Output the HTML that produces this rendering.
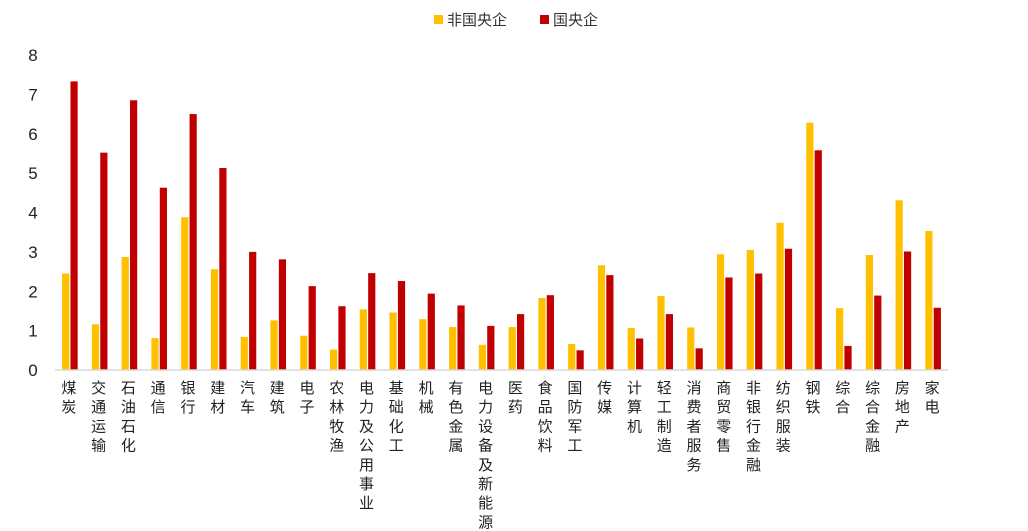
<!DOCTYPE html>
<html><head><meta charset="utf-8"><style>
html,body{margin:0;padding:0;background:#fff;}
svg{display:block;font-family:"Liberation Sans","Noto Sans CJK SC",sans-serif;}
</style></head><body>
<svg id="chart" width="1028" height="531" viewBox="0 0 1028 531" xmlns="http://www.w3.org/2000/svg">
<g>
<rect x="434" y="15" width="9" height="9" fill="#FFC000"/>
<text x="447" y="25" font-size="15" fill="#333">非国央企</text>
<rect x="540" y="15" width="9" height="9" fill="#C00000"/>
<text x="553" y="25" font-size="15" fill="#333">国央企</text>
</g>
<g id="yaxis"></g>
<g id="bars"></g>
<line x1="55" y1="370" x2="948" y2="370" stroke="#d9d9d9" stroke-width="1.5"/>
<g id="xaxis"></g>
</svg>
<script>
const categories = ["煤炭","交通运输","石油石化","通信","银行","建材","汽车","建筑","电子","农林牧渔","电力及公用事业","基础化工","机械","有色金属","电力设备及新能源","医药","食品饮料","国防军工","传媒","计算机","轻工制造","消费者服务","商贸零售","非银行金融","纺织服装","钢铁","综合","综合金融","房地产","家电"];
const nonSoeValues = [2.45,1.16,2.87,0.81,3.88,2.56,0.84,1.26,0.87,0.52,1.54,1.46,1.29,1.09,0.64,1.09,1.83,0.66,2.66,1.07,1.88,1.08,2.94,3.05,3.74,6.28,1.57,2.92,4.31,3.53];
const soeValues = [7.33,5.52,6.85,4.63,6.5,5.13,3.0,2.81,2.13,1.62,2.46,2.26,1.94,1.64,1.12,1.42,1.9,0.5,2.41,0.8,1.42,0.55,2.35,2.45,3.08,5.58,0.61,1.89,3.01,1.58];
const yTicks = [0,1,2,3,4,5,6,7,8];

const NS = "http://www.w3.org/2000/svg";
const plotLeft = 55, plotRight = 948, y0 = 370, yMax = 8, yTop = 55;
const band = (plotRight - plotLeft) / categories.length;
function yScale(v){ return y0 - v / yMax * (y0 - yTop); }
function xCenter(i){ return plotLeft + band * (i + 0.5); }

const yaxis = document.getElementById('yaxis');
yTicks.forEach(t => {
  const el = document.createElementNS(NS, 'text');
  
  
  el.setAttribute('x', 33); el.setAttribute('y', yScale(t) + 6);
  el.setAttribute('font-size', '17'); el.setAttribute('text-anchor', 'middle'); el.setAttribute('fill', '#222');
  el.textContent = t;
  yaxis.appendChild(el);
});

const bars = document.getElementById('bars');
const bw = 7.2;
categories.forEach((c, i) => {
  const cx = xCenter(i);
  [[nonSoeValues[i], '#FFC000', cx - bw - 0.6, 'bar-non-soe'], [soeValues[i], '#C00000', cx + 0.6, 'bar-soe']].forEach(([v, col, x, nm]) => {
    const r = document.createElementNS(NS, 'rect');
    
    
    r.setAttribute('x', x); r.setAttribute('y', yScale(v));
    r.setAttribute('width', bw); r.setAttribute('height', y0 - yScale(v));
    r.setAttribute('fill', col);
    bars.appendChild(r);
  });
});

const xaxis = document.getElementById('xaxis');
categories.forEach((c, i) => {
  const t = document.createElementNS(NS, 'text');
  
  
  t.setAttribute('font-size', '15'); t.setAttribute('text-anchor', 'middle'); t.setAttribute('fill', '#222');
  [...c].forEach((ch, k) => {
    const s = document.createElementNS(NS, 'tspan');
    s.setAttribute('x', xCenter(i) - 1);
    s.setAttribute('y', 393 + k * 19.2);
    s.textContent = ch;
    t.appendChild(s);
  });
  xaxis.appendChild(t);
});
</script>
</body></html>
